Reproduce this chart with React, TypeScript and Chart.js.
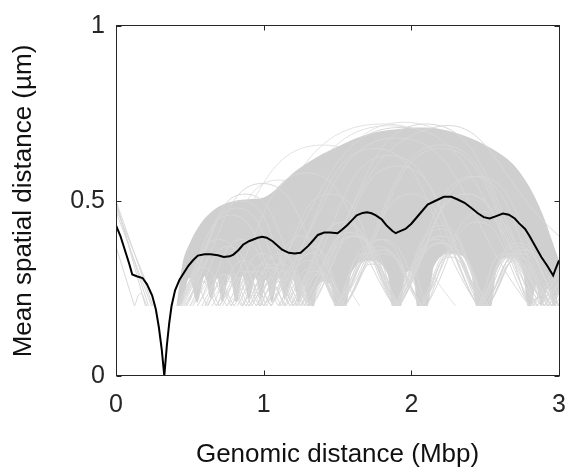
import React, { useEffect, useRef } from 'react';
import { Chart, registerables } from 'chart.js';

Chart.register(...registerables);

// ---------- axis ticks ----------
const xTicks = [0, 1, 2, 3];
const yTicks = [0, 0.5, 1];

// ---------- mean curve (black) ----------
const meanX = [0, 0.03, 0.06, 0.09, 0.11, 0.14, 0.18, 0.21, 0.245, 0.27, 0.29, 0.31, 0.327, 0.345, 0.36, 0.376, 0.4, 0.43, 0.46, 0.49, 0.52, 0.554, 0.6, 0.64, 0.69, 0.73, 0.77, 0.795, 0.83, 0.86, 0.9, 0.93, 0.96, 0.99, 1.02, 1.06, 1.1, 1.125, 1.17, 1.21, 1.25, 1.3, 1.33, 1.367, 1.41, 1.45, 1.5, 1.53, 1.565, 1.6, 1.63, 1.67, 1.7, 1.73, 1.76, 1.8, 1.83, 1.87, 1.894, 1.92, 1.96, 2.0, 2.05, 2.11, 2.16, 2.22, 2.27, 2.31, 2.36, 2.4, 2.45, 2.49, 2.53, 2.57, 2.62, 2.66, 2.7, 2.73, 2.77, 2.8, 2.84, 2.88, 2.92, 2.96, 2.98, 3.0];
const meanY = [0.43, 0.4, 0.36, 0.32, 0.29, 0.285, 0.28, 0.262, 0.23, 0.19, 0.14, 0.075, 0.0, 0.09, 0.15, 0.2, 0.245, 0.275, 0.295, 0.315, 0.33, 0.344, 0.348, 0.348, 0.345, 0.34, 0.342, 0.347, 0.36, 0.375, 0.385, 0.39, 0.395, 0.398, 0.395, 0.385, 0.37, 0.361, 0.352, 0.35, 0.352, 0.371, 0.385, 0.403, 0.41, 0.41, 0.408, 0.418, 0.431, 0.446, 0.459, 0.466, 0.468, 0.465, 0.459, 0.447, 0.431, 0.415, 0.408, 0.413, 0.42, 0.435, 0.46, 0.49, 0.5, 0.512, 0.512, 0.505, 0.495, 0.482, 0.465, 0.454, 0.45, 0.456, 0.464, 0.461, 0.45, 0.436, 0.42, 0.4, 0.37, 0.34, 0.315, 0.287, 0.31, 0.33];

// ---------- dense grey band formed by the overlapping traces ----------
const bandTopX = [0.41, 0.45, 0.5, 0.55, 0.6, 0.65, 0.7, 0.8, 0.9, 1.0, 1.1, 1.2, 1.3, 1.4, 1.5, 1.6, 1.7, 1.8, 1.9, 2.0, 2.1, 2.2, 2.3, 2.4, 2.5, 2.6, 2.7, 2.8, 2.86, 2.9, 2.95, 3.0];
const bandTopY = [0.2, 0.32, 0.38, 0.42, 0.45, 0.47, 0.485, 0.5, 0.505, 0.51, 0.54, 0.58, 0.61, 0.635, 0.655, 0.675, 0.69, 0.7, 0.705, 0.71, 0.71, 0.705, 0.695, 0.68, 0.66, 0.635, 0.6, 0.54, 0.49, 0.45, 0.39, 0.33];
// lower edge: white arch-shaped gaps between the 0.2 floor contacts
const bandBottomX = [0.41, 0.45, 0.495, 0.55, 0.6, 0.645, 0.685, 0.72, 0.768, 0.815, 0.857, 0.9, 0.945, 0.982, 1.015, 1.055, 1.1, 1.145, 1.193, 1.24, 1.27, 1.3, 1.34, 1.36, 1.41, 1.46, 1.48, 1.52, 1.56, 1.59, 1.715, 1.84, 1.87, 1.9, 1.93, 1.95, 1.985, 2.02, 2.04, 2.075, 2.11, 2.15, 2.275, 2.4, 2.44, 2.49, 2.54, 2.575, 2.665, 2.755, 2.79, 2.81, 2.845, 2.88, 2.925, 2.965, 3.0];
const bandBottomY = [0.2, 0.21, 0.28, 0.21, 0.285, 0.22, 0.28, 0.21, 0.29, 0.21, 0.285, 0.22, 0.28, 0.22, 0.275, 0.21, 0.28, 0.22, 0.28, 0.21, 0.26, 0.21, 0.2, 0.25, 0.27, 0.25, 0.2, 0.2, 0.2, 0.29, 0.33, 0.29, 0.2, 0.2, 0.2, 0.27, 0.3, 0.27, 0.2, 0.2, 0.2, 0.31, 0.35, 0.31, 0.2, 0.2, 0.2, 0.3, 0.34, 0.3, 0.2, 0.2, 0.26, 0.2, 0.25, 0.2, 0.24];

// ---------- individual grey traces: [x, y] points, arcs meeting the 0.2 floor ----------
const traceArcs: number[][][] = [
  [[0.42,.2],[0.52,.27],[0.62,.2],[0.75,.29],[0.88,.2],[1.05,.31],[1.22,.2],[1.37,.30],[1.52,.2],[1.71,.33],[1.9,.2],[2.19,.40],[2.48,.2],[2.665,.34],[2.85,.2],[3.0,.26]],
  [[0.43,.2],[0.59,.31],[0.75,.2],[0.9,.30],[1.05,.2],[1.175,.28],[1.3,.2],[1.425,.28],[1.55,.2],[1.735,.32],[1.92,.2],[2.185,.38],[2.45,.2],[2.625,.35],[2.8,.2],[3.0,.30]],
  [[0.44,.2],[0.82,.48],[1.2,.2],[1.54,.44],[1.88,.2],[2.2,.43],[2.52,.2],[2.77,.36],[3.0,.23]],
  [[0.45,.2],[0.85,.50],[1.25,.2],[2.1,.72],[2.95,.2],[3.0,.24]],
  [[0.41,.2],[0.78,.46],[1.15,.2],[1.325,.31],[1.5,.2],[2.2,.66],[2.9,.2],[3.0,.27]],
  [[0.47,.2],[0.685,.35],[0.9,.2],[1.115,.35],[1.33,.2],[1.625,.40],[1.92,.2],[2.37,.52],[2.82,.2],[3.0,.33]],
  [[0.5,.2],[0.6,.27],[0.7,.2],[0.825,.28],[0.95,.2],[1.065,.28],[1.18,.2],[1.335,.30],[1.49,.2],[1.685,.35],[1.88,.2],[2.2,.42],[2.52,.2],[2.76,.35],[3.0,.2]],
  [[0.55,.2],[0.675,.28],[0.8,.2],[0.95,.30],[1.1,.2],[1.3,.33],[1.5,.2],[1.785,.39],[2.07,.2],[2.265,.34],[2.46,.2],[2.68,.34],[2.9,.2],[3.0,.26]],
  [[0.42,.2],[0.695,.39],[0.97,.2],[1.26,.40],[1.55,.2],[2.0,.52],[2.45,.2],[2.725,.38],[3.0,.2]],
  [[0.6,.2],[0.725,.29],[0.85,.2],[1.06,.34],[1.27,.2],[1.585,.41],[1.9,.2],[2.0,.30],[2.1,.2],[2.45,.44],[2.8,.2],[3.0,.28]],
  [[0.65,.2],[0.785,.29],[0.92,.2],[1.075,.31],[1.23,.2],[1.36,.29],[1.49,.2],[1.775,.37],[2.06,.2],[2.28,.36],[2.5,.2],[2.71,.34],[2.92,.2],[3.0,.24]],
  [[0.43,.2],[0.875,.52],[1.32,.2],[1.91,.60],[2.5,.2],[2.75,.36],[3.0,.2]],
  [[0.9,.2],[1.925,.71],[2.95,.2],[3.0,.25]],
  [[1.2,.2],[2.15,.71],[3.0,.40]],
  [[1.0,.2],[1.9,.68],[2.8,.2],[3.0,.30]],
  [[0.7,.2],[1.29,.58],[1.88,.2],[2.415,.57],[2.95,.2],[3.0,.25]],
  [[0.46,.2],[0.99,.55],[1.52,.2],[2.2,.65],[2.88,.2],[3.0,.30]],
  [[0.78,.2],[0.99,.35],[1.2,.2],[1.85,.63],[2.5,.2],[2.75,.36],[3.0,.2]],
  [[1.05,.2],[1.75,.65],[2.45,.2],[2.725,.37],[3.0,.2]],
  [[0.52,.2],[0.76,.37],[1.0,.2],[1.45,.52],[1.9,.2],[2.45,.57],[3.0,.2]],
  [[0.58,.2],[0.85,.39],[1.12,.2],[1.335,.37],[1.55,.2],[1.81,.35],[2.07,.2],[2.295,.36],[2.52,.2],[2.735,.34],[2.95,.2],[3.0,.24]],
  [[0.68,.2],[0.865,.33],[1.05,.2],[1.18,.30],[1.31,.2],[1.61,.40],[1.91,.2],[2.195,.38],[2.48,.2],[2.705,.35],[2.93,.2],[3.0,.25]],
  [[0.72,.2],[0.86,.30],[1.0,.2],[1.14,.30],[1.28,.2],[1.405,.29],[1.53,.2],[1.715,.34],[1.9,.2],[2.375,.52],[2.85,.2],[3.0,.29]],
  [[0.82,.2],[1.0,.32],[1.18,.2],[1.54,.44],[1.9,.2],[2.21,.40],[2.52,.2],[2.71,.33],[2.9,.2],[3.0,.26]],
  [[0.88,.2],[1.065,.32],[1.25,.2],[1.375,.29],[1.5,.2],[1.79,.36],[2.08,.2],[2.275,.35],[2.47,.2],[2.65,.34],[2.83,.2],[2.905,.24],[2.98,.2],[3.0,.21]],
  [[0.95,.2],[1.125,.32],[1.3,.2],[1.595,.40],[1.89,.2],[2.17,.39],[2.45,.2],[2.625,.35],[2.8,.2],[3.0,.30]],
  [[1.1,.2],[1.325,.35],[1.55,.2],[1.81,.36],[2.07,.2],[2.485,.47],[2.9,.2],[3.0,.27]],
  [[0.48,.2],[0.58,.27],[0.68,.2],[0.77,.27],[0.86,.2],[0.94,.26],[1.02,.2],[1.11,.27],[1.2,.2],[1.35,.30],[1.5,.2],[1.705,.37],[1.91,.2],[2.205,.38],[2.5,.2],[2.735,.35],[2.97,.2],[3.0,.22]],
  [[0.62,.2],[0.7,.26],[0.78,.2],[0.88,.27],[0.98,.2],[1.06,.26],[1.14,.2],[1.22,.26],[1.3,.2],[1.41,.28],[1.52,.2],[1.81,.39],[2.1,.2],[2.285,.35],[2.47,.2],[2.66,.35],[2.85,.2],[3.0,.27]],
  [[0.125,.2],[0.165,.235],[0.21,.2]],
];

// faint outermost traces
const faintArcs: number[][][] = [
  [[0.6,.2],[1.8,.72],[3.0,.2]],
  [[0.75,.2],[1.85,.715],[2.95,.2]],
  [[0.5,.2],[1.4,.66],[2.3,.2]],
  [[0.95,.2],[1.95,.725],[2.95,.2]],
  [[0.55,.2],[1.1,.56],[1.65,.2]],
];

// straight grey traces near the origin
const leftTraces: number[][][] = [
  [[0,.50],[0.25,.2]],
  [[0,.49],[0.22,.2]],
  [[0,.48],[0.27,.2]],
  [[0,.47],[0.24,.2]],
  [[0,.50],[0.2,.2]],
  [[0,.37],[0.125,.2]],
];

const FONT = "'Liberation Sans', Arial, Helvetica, sans-serif";
const AXIS_COLOR = '#262626';
const BAND_COLOR = '#cfcfcf';
const TRACE_COLOR = '#d8d8d8';

function arcPoints(curve: number[][]) {
  const out: { x: number; y: number }[] = [];
  curve.forEach(([x, y], i) => {
    out.push({ x, y });
    // a floor contact shared by two arcs is entered twice so each arc keeps its own cusp
    if (i % 2 === 0 && i > 0 && i < curve.length - 1) out.push({ x, y });
  });
  return out;
}

const boxPlugin = {
  id: 'axesBox',
  afterDatasetsDraw(chart: any) {
    const { ctx, chartArea: a, scales } = chart;
    const L = Math.round(a.left) + 0.5;
    const R = Math.round(a.right) + 0.5;
    const T = Math.round(a.top) - 0.5;
    const B = Math.round(a.bottom) - 0.5;
    ctx.save();
    ctx.strokeStyle = AXIS_COLOR;
    ctx.lineWidth = 1;
    ctx.strokeRect(L, T, R - L, B - T);
    const tl = 5;
    ctx.beginPath();
    xTicks.forEach((v) => {
      const px = Math.round(scales.x.getPixelForValue(v)) + 0.5;
      ctx.moveTo(px, B); ctx.lineTo(px, B - tl);
      ctx.moveTo(px, T); ctx.lineTo(px, T + tl);
    });
    yTicks.forEach((v) => {
      const py = Math.round(scales.y.getPixelForValue(v)) + 0.5;
      ctx.moveTo(L, py); ctx.lineTo(L + tl, py);
      ctx.moveTo(R, py); ctx.lineTo(R - tl, py);
    });
    ctx.stroke();
    ctx.restore();
  },
};

export default function App() {
  const canvasRef = useRef<HTMLCanvasElement | null>(null);

  useEffect(() => {
    const canvas = canvasRef.current;
    if (!canvas) return;

    const datasets: any[] = [];
    datasets.push({
      label: 'mean',
      data: meanX.map((x, i) => ({ x, y: meanY[i] })),
      borderColor: '#000000',
      borderWidth: 2,
      tension: 0,
      order: 0,
    });
    traceArcs.forEach((c, i) => {
      datasets.push({
        label: 'trace' + i,
        data: arcPoints(c),
        borderColor: TRACE_COLOR,
        borderWidth: 1,
        tension: 0.5,
        order: 1,
      });
    });
    leftTraces.forEach((c, i) => {
      datasets.push({
        label: 'left' + i,
        data: c.map(([x, y]) => ({ x, y })),
        borderColor: TRACE_COLOR,
        borderWidth: 1,
        tension: 0,
        order: 1,
      });
    });
    const bottomIndex = datasets.length + 1;
    datasets.push({
      label: 'bandTop',
      data: bandTopX.map((x, i) => ({ x, y: bandTopY[i] })),
      borderColor: 'rgba(0,0,0,0)',
      backgroundColor: BAND_COLOR,
      fill: { target: bottomIndex },
      cubicInterpolationMode: 'monotone',
      order: 3,
    });
    datasets.push({
      label: 'bandBottom',
      data: bandBottomX.map((x, i) => ({ x, y: bandBottomY[i] })),
      borderColor: 'rgba(0,0,0,0)',
      cubicInterpolationMode: 'monotone',
      order: 3,
    });
    faintArcs.forEach((c, i) => {
      datasets.push({
        label: 'faint' + i,
        data: arcPoints(c),
        borderColor: '#e2e2e2',
        borderWidth: 1,
        tension: 0.5,
        order: 4,
      });
    });

    const chart = new Chart(canvas, {
      type: 'line',
      data: { datasets },
      options: {
        responsive: false,
        animation: false,
        events: [],
        layout: { padding: { top: 18, right: 9, left: 0, bottom: 0 } },
        elements: { point: { radius: 0 } },
        plugins: { legend: { display: false }, tooltip: { enabled: false } },
        scales: {
          x: {
            type: 'linear',
            min: 0,
            max: 3,
            afterBuildTicks: (s: any) => { s.ticks = xTicks.map((v) => ({ value: v })); },
            afterFit: (s: any) => { s.height = 94; },
            grid: { display: false, drawTicks: false },
            border: { display: false },
            ticks: {
              color: AXIS_COLOR,
              padding: 14,
              font: { family: FONT, size: 25 },
              callback: (v: any) => String(v),
            },
            title: {
              display: true,
              text: 'Genomic distance (Mbp)',
              color: '#111111',
              font: { family: FONT, size: 26 },
              padding: { top: 0, bottom: 0 },
            },
          },
          y: {
            type: 'linear',
            min: 0,
            max: 1,
            afterBuildTicks: (s: any) => { s.ticks = yTicks.map((v) => ({ value: v })); },
            afterFit: (s: any) => { s.width = 116; },
            grid: { display: false, drawTicks: false },
            border: { display: false },
            ticks: {
              color: AXIS_COLOR,
              padding: 11,
              font: { family: FONT, size: 25 },
              callback: (v: any) => String(v),
            },
            title: {
              display: true,
              text: 'Mean spatial distance (µm)',
              color: '#111111',
              font: { family: FONT, size: 26 },
              padding: { top: 8, bottom: 0 },
            },
          },
        },
      },
      plugins: [boxPlugin],
    } as any);

    return () => chart.destroy();
  }, []);

  return (
    <div style={{ position: 'absolute', left: 0, top: 0, width: 580, height: 470, background: '#ffffff' }}>
      <canvas ref={canvasRef} width={580} height={470} style={{ display: 'block' }} />
    </div>
  );
}
